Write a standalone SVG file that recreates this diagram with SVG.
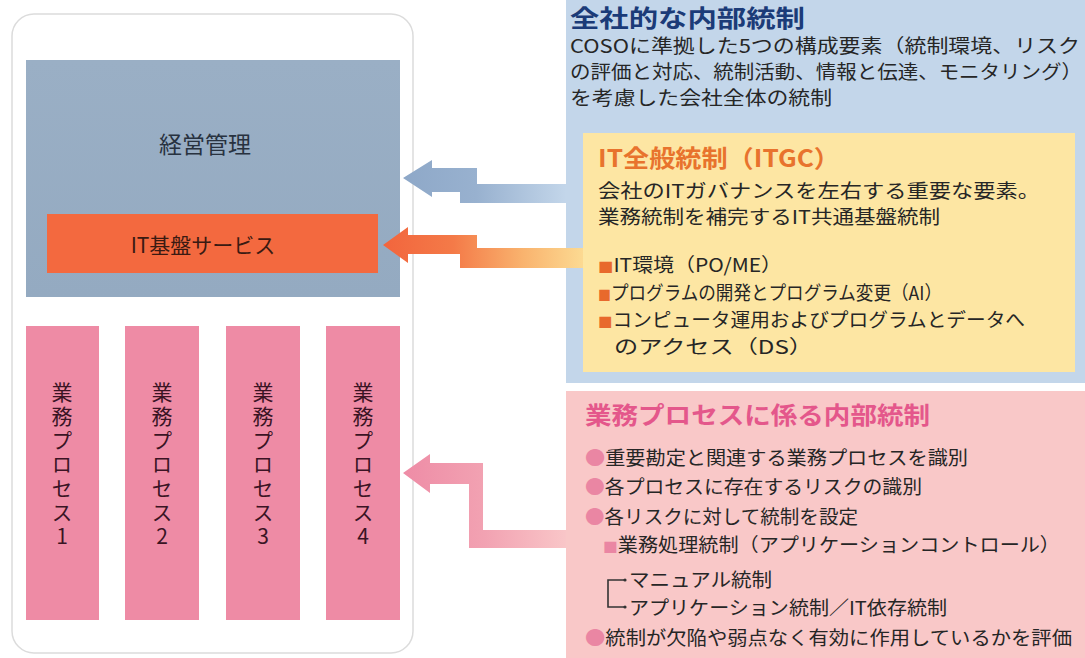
<svg xmlns="http://www.w3.org/2000/svg" width="1085" height="658" viewBox="0 0 1085 658">
<style>
text{font-family:"Noto Sans CJK JP","Noto Sans",sans-serif;fill:#262626}
.body{font-size:19px}
.title{font-size:24px;font-weight:bold}
.col{fill:#ee8ba5}
.vt{font-size:21px;fill:#3a1424;writing-mode:vertical-rl;text-orientation:upright;letter-spacing:3px}
</style>
<defs>
<linearGradient id="gBlue" gradientUnits="userSpaceOnUse" x1="403" y1="0" x2="566" y2="0">
<stop offset="0" stop-color="#8ea8c8"/><stop offset="0.45" stop-color="#98b1cf"/><stop offset="1" stop-color="#c3d6ea"/>
</linearGradient>
<linearGradient id="gOrange" gradientUnits="userSpaceOnUse" x1="383" y1="0" x2="583" y2="0">
<stop offset="0" stop-color="#f2653d"/><stop offset="0.35" stop-color="#f47a48"/><stop offset="0.7" stop-color="#f9b36e"/><stop offset="1" stop-color="#fcda92"/>
</linearGradient>
<linearGradient id="gPink" gradientUnits="userSpaceOnUse" x1="403" y1="0" x2="566" y2="0">
<stop offset="0" stop-color="#ee8ca6"/><stop offset="0.5" stop-color="#f2a2b2"/><stop offset="1" stop-color="#f9c6c8"/>
</linearGradient>
<linearGradient id="gGray" x1="0" y1="0" x2="0" y2="1">
<stop offset="0" stop-color="#9aafc5"/><stop offset="1" stop-color="#94aac1"/>
</linearGradient>
</defs>
<rect width="1085" height="658" fill="#ffffff"/>

<g id="container">
<rect x="12" y="14" width="401" height="639" rx="22" fill="#ffffff" stroke="#dcdcdc" stroke-width="1.5"/>
</g>

<g id="keiei">
<rect x="26" y="60" width="374" height="237" fill="url(#gGray)"/>
<text x="205" y="153" font-size="23" text-anchor="middle" style="fill:#28323f">経営管理</text>
</g>

<g id="it-kiban">
<rect x="47" y="214" width="331" height="59" fill="#f3693f"/>
<text x="203" y="253" font-size="21" text-anchor="middle" style="fill:#3a1a12">IT基盤サービス</text>
</g>

<g id="process1">
<rect class="col" x="26" y="326" width="73" height="294"/>
<text class="vt" x="62" y="382">業務プロセス1</text>
</g>
<g id="process2">
<rect class="col" x="125" y="326" width="74" height="294"/>
<text class="vt" x="162" y="382">業務プロセス2</text>
</g>
<g id="process3">
<rect class="col" x="226" y="326" width="74" height="294"/>
<text class="vt" x="263" y="382">業務プロセス3</text>
</g>
<g id="process4">
<rect class="col" x="326" y="326" width="74" height="294"/>
<text class="vt" x="363" y="382">業務プロセス4</text>
</g>

<g id="zensha">
<rect x="566" y="0" width="519" height="383" fill="#c3d6ea"/>
<text class="title" x="570" y="27" font-size="25" textLength="235" lengthAdjust="spacingAndGlyphs" style="fill:#1b3b78">全社的な内部統制</text>
<text class="body" x="570" y="53" textLength="510" lengthAdjust="spacingAndGlyphs">COSOに準拠した5つの構成要素（統制環境、リスク</text>
<text class="body" x="570" y="79" textLength="512" lengthAdjust="spacingAndGlyphs">の評価と対応、統制活動、情報と伝達、モニタリング）</text>
<text class="body" x="570" y="105" textLength="262" lengthAdjust="spacingAndGlyphs">を考慮した会社全体の統制</text>
</g>

<g id="itgc">
<rect x="583" y="133" width="492" height="239" fill="#fde6a3"/>
<text class="title" x="598" y="167" textLength="242" lengthAdjust="spacingAndGlyphs" style="fill:#e8732d">IT全般統制（ITGC）</text>
<text class="body" x="598" y="198" textLength="442" lengthAdjust="spacingAndGlyphs">会社のITガバナンスを左右する重要な要素。</text>
<text class="body" x="598" y="224" textLength="342" lengthAdjust="spacingAndGlyphs">業務統制を補完するIT共通基盤統制</text>
<text class="body" x="598" y="272" textLength="184" lengthAdjust="spacingAndGlyphs"><tspan font-size="14" style="fill:#e8692c">■</tspan>IT環境（PO/ME）</text>
<text class="body" x="598" y="300" textLength="344" lengthAdjust="spacingAndGlyphs"><tspan font-size="14" style="fill:#e8692c">■</tspan>プログラムの開発とプログラム変更（AI）</text>
<text class="body" x="598" y="327" textLength="427" lengthAdjust="spacingAndGlyphs"><tspan font-size="14" style="fill:#e8692c">■</tspan>コンピュータ運用およびプログラムとデータへ</text>
<text class="body" x="614" y="354" textLength="199" lengthAdjust="spacingAndGlyphs">のアクセス（DS）</text>
</g>

<g id="gyomu">
<rect x="566" y="391" width="519" height="267" fill="#f9c8c8"/>
<text class="title" x="585" y="424" textLength="345" lengthAdjust="spacingAndGlyphs" style="fill:#e4578b">業務プロセスに係る内部統制</text>
<text class="body" x="585" y="465" textLength="383" lengthAdjust="spacingAndGlyphs"><tspan style="fill:#ea86a3">●</tspan>重要勘定と関連する業務プロセスを識別</text>
<text class="body" x="585" y="494" textLength="337" lengthAdjust="spacingAndGlyphs"><tspan style="fill:#ea86a3">●</tspan>各プロセスに存在するリスクの識別</text>
<text class="body" x="585" y="524" textLength="273" lengthAdjust="spacingAndGlyphs"><tspan style="fill:#ea86a3">●</tspan>各リスクに対して統制を設定</text>
<text class="body" x="603" y="552" textLength="457" lengthAdjust="spacingAndGlyphs"><tspan font-size="14" style="fill:#ea86a3">■</tspan>業務処理統制（アプリケーションコントロール）</text>
<path d="M624 580 H608 V607 H624" fill="none" stroke="#333" stroke-width="1.6"/>
<circle cx="625" cy="580" r="1.6" fill="#333"/><circle cx="625" cy="607" r="1.6" fill="#333"/>
<text class="body" x="629" y="587" textLength="143" lengthAdjust="spacingAndGlyphs">マニュアル統制</text>
<text class="body" x="629" y="615" textLength="318" lengthAdjust="spacingAndGlyphs">アプリケーション統制／IT依存統制</text>
<text class="body" x="585" y="645" textLength="487" lengthAdjust="spacingAndGlyphs"><tspan style="fill:#ea86a3">●</tspan>統制が欠陥や弱点なく有効に作用しているかを評価</text>
</g>

<g id="connectors">
<polygon points="403,178 432,160 432,168 477,168 477,184 566,184 566,203 460,203 460,192 432,192 432,197" fill="url(#gBlue)"/>
<polygon points="383,245 408,227 408,235 477,235 477,248 583,248 583,268 460,268 460,254 408,254 408,263" fill="url(#gOrange)"/>
<polygon points="403,473 430,454 430,463 483,463 483,530 566,530 566,548 469,548 469,484 430,484 430,493" fill="url(#gPink)"/>
</g>
</svg>
